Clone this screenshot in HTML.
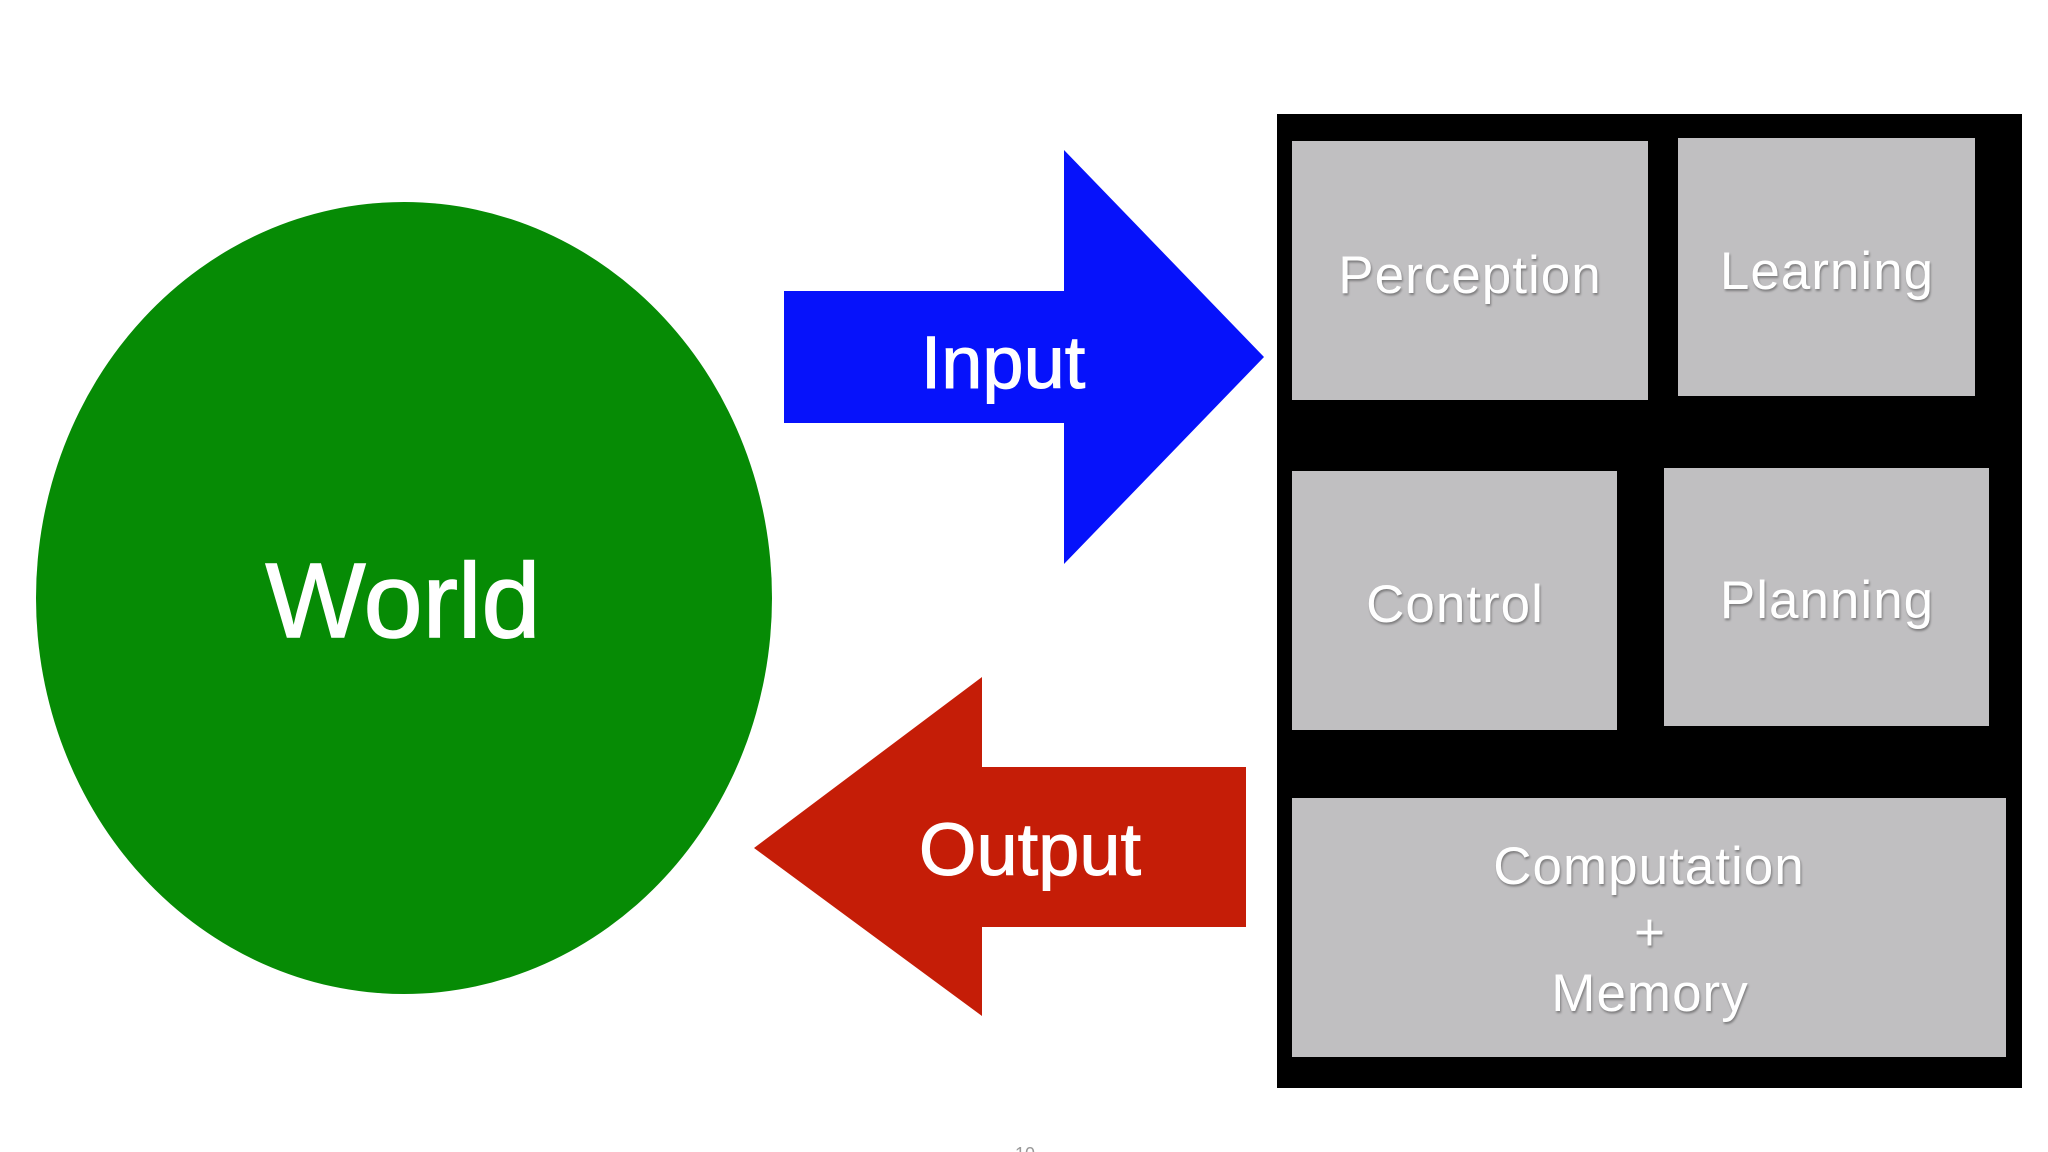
<!DOCTYPE html>
<html><head><meta charset="utf-8"><style>
html,body{margin:0;padding:0;background:#fff;}
svg{display:block;}
text{font-family:"Liberation Sans",sans-serif;fill:#fff;}
.b{font-size:53px;text-anchor:middle;letter-spacing:1px;}
</style></head><body>
<svg width="2048" height="1152" viewBox="0 0 2048 1152" xmlns="http://www.w3.org/2000/svg">
<rect width="2048" height="1152" fill="#fff"/>
<ellipse cx="404" cy="598" rx="368" ry="396" fill="#068b05"/>
<text x="403" y="637" font-size="106" text-anchor="middle" stroke="#fff" stroke-width="1.5">World</text>
<polygon points="784,291 1064,291 1064,150 1264,357 1064,564 1064,423 784,423" fill="#0612fb"/>
<text x="1003" y="388" font-size="74" text-anchor="middle" stroke="#fff" stroke-width="1">Input</text>
<polygon points="1246,767 982,767 982,677 754,848 982,1016 982,927 1246,927" fill="#c51d07"/>
<text x="1030" y="875" font-size="74" text-anchor="middle" stroke="#fff" stroke-width="1">Output</text>
<rect x="1277" y="114" width="745" height="974" fill="#000"/>
<g fill="#c0bfc1">
<rect x="1292" y="141" width="356" height="259"/>
<rect x="1678" y="138" width="297" height="258"/>
<rect x="1292" y="471" width="325" height="259"/>
<rect x="1664" y="468" width="325" height="258"/>
<rect x="1292" y="798" width="714" height="259"/>
</g>
<g style="filter:drop-shadow(1px 2px 1px rgba(0,0,0,0.35))">
<text class="b" x="1470" y="293">Perception</text>
<text class="b" x="1827" y="289">Learning</text>
<text class="b" x="1455" y="622">Control</text>
<text class="b" x="1827" y="618">Planning</text>
<text class="b" x="1649" y="884">Computation</text>
<text class="b" x="1650" y="950">+</text>
<text class="b" x="1650" y="1011">Memory</text>
</g>
<text x="1025" y="1160" font-size="18" style="fill:#999" text-anchor="middle">10</text>
</svg>
</body></html>
